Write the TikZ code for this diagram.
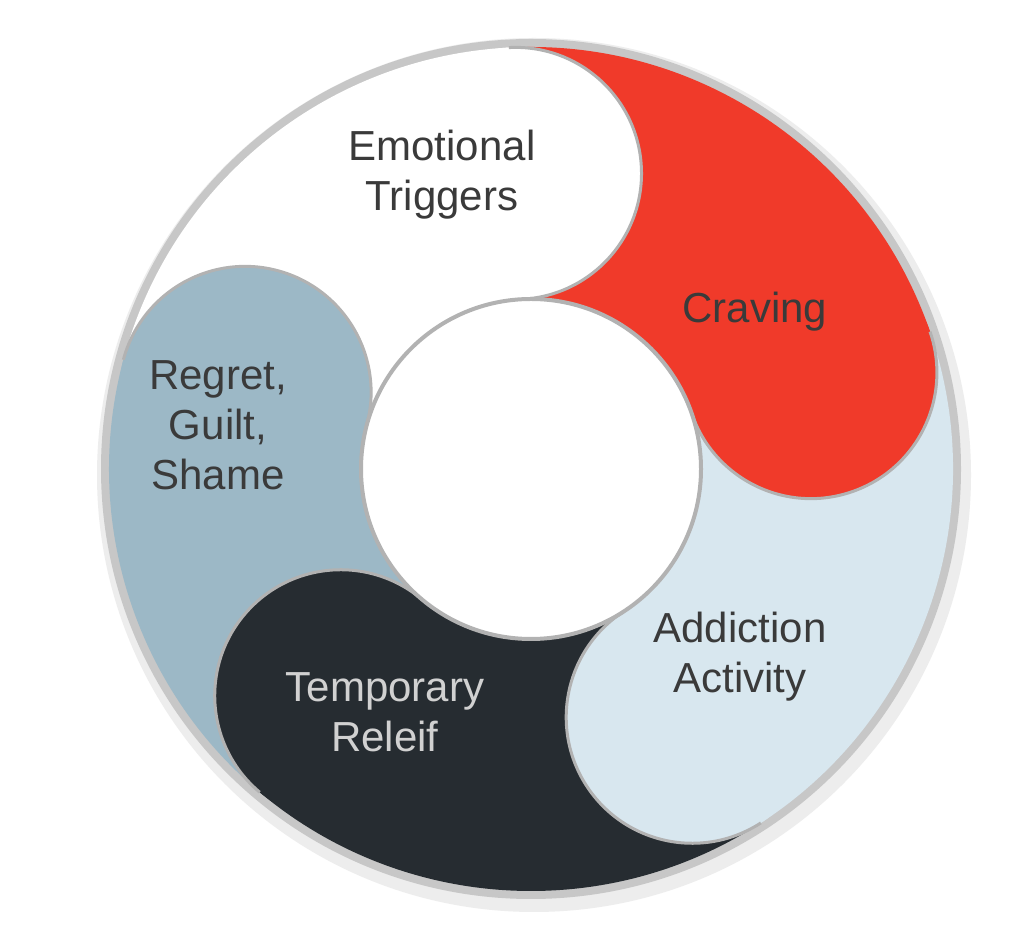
\documentclass[tikz,border=0pt]{standalone}
\usepackage{fontspec}
\setmainfont{Liberation Sans}
\definecolor{cred}{HTML}{F03A2A}
\definecolor{csteel}{HTML}{9CB8C6}
\definecolor{clight}{HTML}{D8E7EF}
\definecolor{cdark}{HTML}{262C31}
\definecolor{ctext}{HTML}{3A3A3A}
\begin{document}
\begin{tikzpicture}[x=1pt,y=1pt,
  lbl/.style={align=center,font=\fontsize{42}{50}\selectfont,text=ctext},
  edge/.style={draw=black!30,line width=3pt}]
\useasboundingbox (0,0) rectangle (1024,925);
\fill[white] (0,0) rectangle (1024,925);
\begin{scope}[shift={(531,456)}]
\fill[black!7] (3,-6) circle (437);
\fill[black!22] (0,0) circle (430);
\def\R{422}\def\r{170}\def\M{296}\def\w{126}
% sectors
\fill[white]  (165:\R) arc[start angle=165,end angle=93,radius=\R] -- (93:\r) arc[start angle=93,end angle=165,radius=\r] -- cycle;
\fill[cred]   (93:\R) arc[start angle=93,end angle=19,radius=\R] -- (19:\r) arc[start angle=19,end angle=93,radius=\r] -- cycle;
\fill[clight] (19:\R) arc[start angle=19,end angle=-57,radius=\R] -- (-57:\r) arc[start angle=-57,end angle=19,radius=\r] -- cycle;
\fill[cdark]  (-57:\R) arc[start angle=-57,end angle=-130,radius=\R] -- (-130:\r) arc[start angle=-130,end angle=-57,radius=\r] -- cycle;
\fill[csteel] (230:\R) arc[start angle=230,end angle=165,radius=\R] -- (165:\r) arc[start angle=165,end angle=230,radius=\r] -- cycle;
% bulbs: full disc in own colour covers the seam, edge only on the leading half
\foreach \e/\c in {93/white,19/cred,-57/clight,-130/cdark,165/csteel}{
  \fill[\c] (\e:\M) circle (\w);
  \draw[edge] (\e:\R) arc[start angle=\e,end angle=\e-180,radius=\w];
}
\fill[white] (0,0) circle (\r);
\draw[black!30,line width=4pt] (0,0) circle (\r);
\end{scope}
\node[lbl] (t1) at (442,750) {Emotional\\Triggers};
\node[lbl] (t2) at (755,613) {Craving};
\node[lbl] (t3) at (740,268) {Addiction\\Activity};
\node[lbl,text=black!18] (t4) at (385,213) {Temporary\\Releif};
\node[lbl] (t5) at (218,500) {Regret,\\Guilt,\\Shame};
\end{tikzpicture}
\end{document}
